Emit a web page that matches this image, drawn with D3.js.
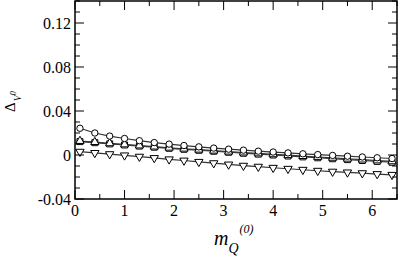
<!DOCTYPE html>
<html><head><meta charset="utf-8">
<script src="https://cdn.jsdelivr.net/npm/d3@7"></script>
<style>body{margin:0;background:#fff}svg{display:block}</style>
</head><body>
<svg id="c" width="398" height="256"></svg>
<script>
const xVals = [0.1,0.4,0.7,1.0,1.3,1.6,1.9,2.2,2.5,2.8,3.1,3.4,3.7,4.0,4.3,4.6,4.9,5.2,5.5,5.8,6.1,6.4];
const circleVals = [0.0243,0.0200,0.0172,0.0150,0.0130,0.0113,0.0099,0.0086,0.0074,0.0063,0.0053,0.0044,0.0035,0.0027,0.0019,0.0011,0.0004,-0.0004,-0.0011,-0.0018,-0.0025,-0.0032];
const triUpVals = [0.0127,0.0117,0.0106,0.0096,0.0086,0.0076,0.0066,0.0057,0.0048,0.0039,0.0030,0.0022,0.0014,0.0006,-0.0002,-0.0010,-0.0018,-0.0026,-0.0034,-0.0042,-0.0050,-0.0058];
const squareVals = [0.0122,0.0112,0.0101,0.0091,0.0081,0.0071,0.0061,0.0052,0.0043,0.0034,0.0025,0.0016,0.0008,0.0000,-0.0009,-0.0017,-0.0025,-0.0034,-0.0042,-0.0050,-0.0058,-0.0066];
const triDownVals = [0.0030,0.0019,0.0008,-0.0003,-0.0015,-0.0027,-0.0039,-0.0050,-0.0062,-0.0074,-0.0086,-0.0097,-0.0106,-0.0116,-0.0125,-0.0134,-0.0143,-0.0151,-0.0158,-0.0165,-0.0173,-0.0180];
const xTicks = [0,1,2,3,4,5,6];
const yTicks = [-0.04,0,0.04,0.08,0.12];
const yTickLabels = ["-0.04","0","0.04","0.08","0.12"];

const FONT = "Liberation Serif, Times New Roman, Times, DejaVu Serif, Noto Serif, serif";
const svg = d3.select("#c");
const L=75,R=397,T=1,B=199;
const x = d3.scaleLinear().domain([0,6.5]).range([L,R]);
const y = d3.scaleLinear().domain([-0.04,0.14]).range([B,T]);

const series = [
  {vals:squareVals, sym:d3.symbolSquare, size:36},
  {vals:triUpVals, sym:d3.symbolTriangle, size:30, rot:0},
  {vals:circleVals, sym:d3.symbolCircle, size:32},
  {vals:triDownVals, sym:d3.symbolTriangle, size:30, rot:180}
];
const line = d3.line().x(d=>x(d[0])).y(d=>y(d[1]));
series.forEach(s=>{
  const pts = xVals.map((v,i)=>[v,s.vals[i]]);
  svg.append("path").attr("d",line(pts)).attr("fill","none").attr("stroke","#333").attr("stroke-width",1.2);
});
series.forEach(s=>{
  const pts = xVals.map((v,i)=>[v,s.vals[i]]);
  svg.append("g").selectAll("path").data(pts).join("path")
    .attr("d",d3.symbol().type(s.sym).size(s.size))
    .attr("transform",d=>`translate(${x(d[0])},${y(d[1])})`+(s.rot?` rotate(${s.rot})`:""))
    .attr("fill","#fff").attr("stroke","#000").attr("stroke-width",1);
});

// frame
svg.append("rect").attr("x",L).attr("y",T).attr("width",R-L).attr("height",B-T)
  .attr("fill","none").attr("stroke","#000").attr("stroke-width",1.5);

// ticks
const g = svg.append("g").attr("stroke","#000").attr("stroke-width",1);
d3.range(0,6.51,0.5).forEach(v=>{
  const major = Math.abs(v-Math.round(v))<1e-6;
  const len = major?9:5;
  g.append("line").attr("x1",x(v)).attr("x2",x(v)).attr("y1",B).attr("y2",B-len);
  g.append("line").attr("x1",x(v)).attr("x2",x(v)).attr("y1",T).attr("y2",T+len);
});
d3.range(-0.04,0.1401,0.01).forEach(v=>{
  const major = Math.abs(v/0.04-Math.round(v/0.04))<1e-6;
  const len = major?9:5;
  g.append("line").attr("x1",L).attr("x2",L+len).attr("y1",y(v)).attr("y2",y(v));
  g.append("line").attr("x1",R).attr("x2",R-len).attr("y1",y(v)).attr("y2",y(v));
});

// tick labels
svg.append("g").selectAll("text").data(xTicks).join("text")
  .attr("x",d=>x(d)).attr("y",216).attr("text-anchor","middle")
  .style("font-family",FONT).attr("font-size",16).text(d=>d);
svg.append("g").selectAll("text").data(yTicks).join("text")
  .attr("x",71).attr("y",d=>y(d)+5.5).attr("text-anchor","end")
  .style("font-family",FONT).attr("font-size",16).text((d,i)=>yTickLabels[i]);

// axis titles
const xt = svg.append("text").attr("x",214).attr("y",245).style("font-family",FONT).attr("font-size",20).attr("font-style","italic");
xt.append("tspan").text("m");
xt.append("tspan").attr("font-size",14).attr("dy",8).text("Q");
xt.append("tspan").attr("font-size",12).attr("dy",-20).attr("dx",1).text("(0)");

const yt = svg.append("text").attr("transform","translate(15,112) rotate(-90)").style("font-family",FONT).attr("font-size",15);
yt.append("tspan").text("Δ");
yt.append("tspan").attr("font-size",10).attr("font-style","italic").attr("dy",6).attr("dx",1).text("V");
yt.append("tspan").attr("font-size",8).attr("font-style","italic").attr("dy",-5).text("0");
</script>
</body></html>
